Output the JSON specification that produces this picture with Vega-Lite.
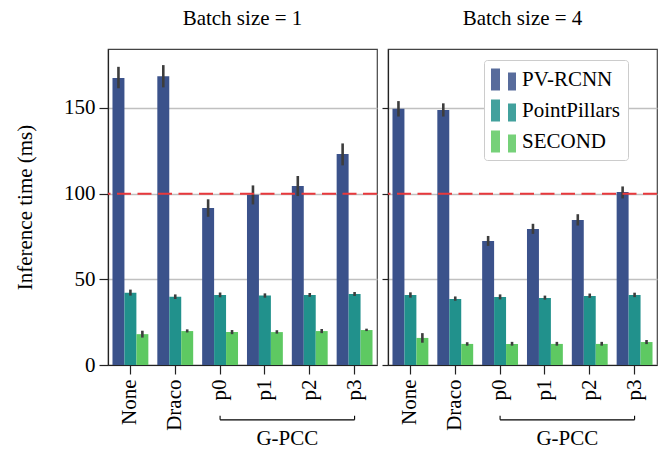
{
  "$schema": "https://vega.github.io/schema/vega-lite/v6.json",
  "padding": {"left": 13, "top": 7, "right": 0, "bottom": 4},
  "background": "white",
  "config": {
    "font": "Liberation Serif",
    "view": {"stroke": "#444444", "strokeWidth": 1.2},
    "concat": {"spacing": 1},
    "axis": {
      "labelFont": "Liberation Serif",
      "labelFontSize": 21,
      "labelColor": "black",
      "titleFont": "Liberation Serif",
      "titleFontSize": 21,
      "titleFontWeight": "normal",
      "titleColor": "black",
      "tickColor": "#222222",
      "tickWidth": 1.2,
      "domainColor": "#222222",
      "domainWidth": 1.2,
      "gridColor": "#c0c0c0",
      "gridWidth": 1.3
    },
    "legend": {
      "labelFont": "Liberation Serif",
      "labelFontSize": 21,
      "labelColor": "black"
    },
    "title": {"font": "Liberation Serif", "fontSize": 21, "fontWeight": "normal", "color": "black"}
  },
  "datasets": {
    "bars": [
      {"batch": 1, "codec": "None", "model": "PV-RCNN", "value": 167.5, "lo": 161.5, "hi": 174.0},
      {"batch": 1, "codec": "None", "model": "PointPillars", "value": 42.2, "lo": 40.5, "hi": 44.0},
      {"batch": 1, "codec": "None", "model": "SECOND", "value": 18.0, "lo": 16.0, "hi": 20.0},
      {"batch": 1, "codec": "Draco", "model": "PV-RCNN", "value": 168.5, "lo": 162.0, "hi": 175.0},
      {"batch": 1, "codec": "Draco", "model": "PointPillars", "value": 39.8, "lo": 38.5, "hi": 41.2},
      {"batch": 1, "codec": "Draco", "model": "SECOND", "value": 19.8, "lo": 19.0, "hi": 20.8},
      {"batch": 1, "codec": "p0", "model": "PV-RCNN", "value": 91.6, "lo": 86.5, "hi": 96.7},
      {"batch": 1, "codec": "p0", "model": "PointPillars", "value": 40.8, "lo": 39.5, "hi": 42.3},
      {"batch": 1, "codec": "p0", "model": "SECOND", "value": 19.2, "lo": 18.0, "hi": 20.4},
      {"batch": 1, "codec": "p1", "model": "PV-RCNN", "value": 99.4, "lo": 93.7, "hi": 104.8},
      {"batch": 1, "codec": "p1", "model": "PointPillars", "value": 40.5, "lo": 39.3, "hi": 41.8},
      {"batch": 1, "codec": "p1", "model": "SECOND", "value": 19.2, "lo": 18.3, "hi": 20.3},
      {"batch": 1, "codec": "p2", "model": "PV-RCNN", "value": 104.5, "lo": 98.6, "hi": 110.3},
      {"batch": 1, "codec": "p2", "model": "PointPillars", "value": 40.8, "lo": 39.8, "hi": 42.0},
      {"batch": 1, "codec": "p2", "model": "SECOND", "value": 19.8, "lo": 18.6, "hi": 21.0},
      {"batch": 1, "codec": "p3", "model": "PV-RCNN", "value": 123.2, "lo": 116.5, "hi": 129.3},
      {"batch": 1, "codec": "p3", "model": "PointPillars", "value": 41.4, "lo": 40.3, "hi": 42.6},
      {"batch": 1, "codec": "p3", "model": "SECOND", "value": 20.4, "lo": 19.8, "hi": 21.2},
      {"batch": 4, "codec": "None", "model": "PV-RCNN", "value": 149.5, "lo": 145.0, "hi": 154.0},
      {"batch": 4, "codec": "None", "model": "PointPillars", "value": 40.8, "lo": 39.3, "hi": 42.4},
      {"batch": 4, "codec": "None", "model": "SECOND", "value": 15.8, "lo": 13.0, "hi": 18.6},
      {"batch": 4, "codec": "Draco", "model": "PV-RCNN", "value": 148.8, "lo": 145.0, "hi": 152.7},
      {"batch": 4, "codec": "Draco", "model": "PointPillars", "value": 38.5, "lo": 37.5, "hi": 40.0},
      {"batch": 4, "codec": "Draco", "model": "SECOND", "value": 12.3, "lo": 11.3, "hi": 13.3},
      {"batch": 4, "codec": "p0", "model": "PV-RCNN", "value": 72.3, "lo": 69.5, "hi": 75.3},
      {"batch": 4, "codec": "p0", "model": "PointPillars", "value": 39.7, "lo": 38.3, "hi": 41.2},
      {"batch": 4, "codec": "p0", "model": "SECOND", "value": 12.3, "lo": 11.3, "hi": 13.5},
      {"batch": 4, "codec": "p1", "model": "PV-RCNN", "value": 79.4, "lo": 76.5, "hi": 82.4},
      {"batch": 4, "codec": "p1", "model": "PointPillars", "value": 39.1, "lo": 38.2, "hi": 40.5},
      {"batch": 4, "codec": "p1", "model": "SECOND", "value": 12.3, "lo": 11.3, "hi": 13.5},
      {"batch": 4, "codec": "p2", "model": "PV-RCNN", "value": 84.6, "lo": 81.4, "hi": 88.0},
      {"batch": 4, "codec": "p2", "model": "PointPillars", "value": 40.3, "lo": 39.2, "hi": 41.7},
      {"batch": 4, "codec": "p2", "model": "SECOND", "value": 12.3, "lo": 11.3, "hi": 13.5},
      {"batch": 4, "codec": "p3", "model": "PV-RCNN", "value": 100.9, "lo": 97.2, "hi": 104.2},
      {"batch": 4, "codec": "p3", "model": "PointPillars", "value": 40.8, "lo": 39.6, "hi": 42.2},
      {"batch": 4, "codec": "p3", "model": "SECOND", "value": 13.4, "lo": 12.2, "hi": 14.6}
    ],
    "bracket": [
      {"from": "p0", "to": "p3", "y": -32.0, "label": "G-PCC", "ylabel": -43.2, "mid": "p2"}
    ],
    "ends": [
      {"codec": "p0", "y": -32.0, "ytop": -29.6},
      {"codec": "p3", "y": -32.0, "ytop": -29.6}
    ],
    "ref": [{"v": 100}]
  },
  "hconcat": [
    {
      "width": 269,
      "height": 316,
      "title": {"text": "Batch size = 1", "offset": 20},
      "layer": [
        {
          "data": {"name": "bars"},
          "transform": [{"filter": "datum.batch == 1"}],
          "mark": {"type": "bar"},
          "encoding": {
            "x": {"field": "codec", "type": "nominal", "sort": ["None", "Draco", "p0", "p1", "p2", "p3"],
                  "scale": {"domain": ["None", "Draco", "p0", "p1", "p2", "p3"], "paddingInner": 0.2, "paddingOuter": 0.1},
                  "axis": {"title": null, "labelAngle": -90, "tickSize": 9, "labelPadding": 5, "domain": true, "grid": false}},
            "xOffset": {"field": "model", "type": "nominal", "scale": {"domain": ["PV-RCNN", "PointPillars", "SECOND"], "paddingInner": 0, "paddingOuter": 0}},
            "y": {"field": "value", "type": "quantitative",
                  "scale": {"domain": [0, 184.4], "nice": false, "zero": true},
                  "axis": {"title": "Inference time (ms)", "values": [0, 50, 100, 150], "grid": true, "tickSize": 9, "labelPadding": 4, "titlePadding": 28, "domain": true}},
            "color": {"field": "model", "type": "nominal",
                      "scale": {"domain": ["PV-RCNN", "PointPillars", "SECOND"], "range": ["#3b528b", "#21918c", "#5ec962"]},
                      "legend": {
                        "title": null,
                        "orient": "none",
                        "legendX": 376,
                        "legendY": 11,
                        "symbolType": "M-1,-0.88H-0.28V0.88H-1Z M0.36,-0.56H1V0.88H0.36Z",
                        "symbolSize": 625,
                        "symbolStrokeWidth": 0,
                        "symbolOpacity": 0.85,
                        "labelOffset": 6,
                        "rowPadding": 7,
                        "padding": 7,
                        "fillColor": "white",
                        "strokeColor": "#cccccc",
                        "cornerRadius": 3
                      }}
          }
        },
        {
          "data": {"name": "bars"},
          "transform": [{"filter": "datum.batch == 1"}],
          "mark": {"type": "rule", "color": "#3d3d3d", "strokeWidth": 2.6},
          "encoding": {
            "x": {"field": "codec", "type": "nominal", "sort": ["None", "Draco", "p0", "p1", "p2", "p3"]},
            "xOffset": {"field": "model", "type": "nominal"},
            "y": {"field": "lo", "type": "quantitative"},
            "y2": {"field": "hi"}
          }
        },
        {
          "data": {"name": "ref"},
          "mark": {"type": "rule", "color": "#e8383c", "strokeWidth": 2, "strokeDash": [14, 6.5]},
          "encoding": {"y": {"field": "v", "type": "quantitative"}}
        },
        {
          "data": {"name": "bracket"},
          "mark": {"type": "rule", "color": "black", "strokeWidth": 1.1},
          "encoding": {
            "x": {"field": "from", "type": "nominal", "bandPosition": 0.5},
            "x2": {"field": "to", "bandPosition": 0.5},
            "y": {"field": "y", "type": "quantitative"}
          }
        },
        {
          "data": {"name": "ends"},
          "mark": {"type": "rule", "color": "black", "strokeWidth": 1.1},
          "encoding": {
            "x": {"field": "codec", "type": "nominal", "bandPosition": 0.5},
            "y": {"field": "y", "type": "quantitative"},
            "y2": {"field": "ytop"}
          }
        },
        {
          "data": {"name": "bracket"},
          "mark": {"type": "text", "fontSize": 21, "font": "Liberation Serif", "color": "black", "baseline": "middle", "align": "center"},
          "encoding": {
            "x": {"field": "mid", "type": "nominal", "bandPosition": -0.125},
            "y": {"field": "ylabel", "type": "quantitative"},
            "text": {"field": "label"}
          }
        }
      ]
    },
    {
      "width": 269,
      "height": 316,
      "title": {"text": "Batch size = 4", "offset": 20},
      "layer": [
        {
          "data": {"name": "bars"},
          "transform": [{"filter": "datum.batch == 4"}],
          "mark": {"type": "bar"},
          "encoding": {
            "x": {"field": "codec", "type": "nominal", "sort": ["None", "Draco", "p0", "p1", "p2", "p3"],
                  "scale": {"domain": ["None", "Draco", "p0", "p1", "p2", "p3"], "paddingInner": 0.2, "paddingOuter": 0.1},
                  "axis": {"title": null, "labelAngle": -90, "tickSize": 9, "labelPadding": 5, "domain": true, "grid": false}},
            "xOffset": {"field": "model", "type": "nominal", "scale": {"domain": ["PV-RCNN", "PointPillars", "SECOND"], "paddingInner": 0, "paddingOuter": 0}},
            "y": {"field": "value", "type": "quantitative",
                  "scale": {"domain": [0, 184.4], "nice": false, "zero": true},
                  "axis": {"title": null, "labels": false, "values": [0, 50, 100, 150], "grid": true, "tickSize": 6, "domain": true}},
            "color": {"field": "model", "type": "nominal",
                      "scale": {"domain": ["PV-RCNN", "PointPillars", "SECOND"], "range": ["#3b528b", "#21918c", "#5ec962"]},
                      "legend": {
                        "title": null,
                        "orient": "none",
                        "legendX": 376,
                        "legendY": 11,
                        "symbolType": "M-1,-0.88H-0.28V0.88H-1Z M0.36,-0.56H1V0.88H0.36Z",
                        "symbolSize": 625,
                        "symbolStrokeWidth": 0,
                        "symbolOpacity": 0.85,
                        "labelOffset": 6,
                        "rowPadding": 7,
                        "padding": 7,
                        "fillColor": "white",
                        "strokeColor": "#cccccc",
                        "cornerRadius": 3
                      }}
          }
        },
        {
          "data": {"name": "bars"},
          "transform": [{"filter": "datum.batch == 4"}],
          "mark": {"type": "rule", "color": "#3d3d3d", "strokeWidth": 2.6},
          "encoding": {
            "x": {"field": "codec", "type": "nominal", "sort": ["None", "Draco", "p0", "p1", "p2", "p3"]},
            "xOffset": {"field": "model", "type": "nominal"},
            "y": {"field": "lo", "type": "quantitative"},
            "y2": {"field": "hi"}
          }
        },
        {
          "data": {"name": "ref"},
          "mark": {"type": "rule", "color": "#e8383c", "strokeWidth": 2, "strokeDash": [14, 6.5]},
          "encoding": {"y": {"field": "v", "type": "quantitative"}}
        },
        {
          "data": {"name": "bracket"},
          "mark": {"type": "rule", "color": "black", "strokeWidth": 1.1},
          "encoding": {
            "x": {"field": "from", "type": "nominal", "bandPosition": 0.5},
            "x2": {"field": "to", "bandPosition": 0.5},
            "y": {"field": "y", "type": "quantitative"}
          }
        },
        {
          "data": {"name": "ends"},
          "mark": {"type": "rule", "color": "black", "strokeWidth": 1.1},
          "encoding": {
            "x": {"field": "codec", "type": "nominal", "bandPosition": 0.5},
            "y": {"field": "y", "type": "quantitative"},
            "y2": {"field": "ytop"}
          }
        },
        {
          "data": {"name": "bracket"},
          "mark": {"type": "text", "fontSize": 21, "font": "Liberation Serif", "color": "black", "baseline": "middle", "align": "center"},
          "encoding": {
            "x": {"field": "mid", "type": "nominal", "bandPosition": -0.125},
            "y": {"field": "ylabel", "type": "quantitative"},
            "text": {"field": "label"}
          }
        }
      ]
    }
  ]
}
